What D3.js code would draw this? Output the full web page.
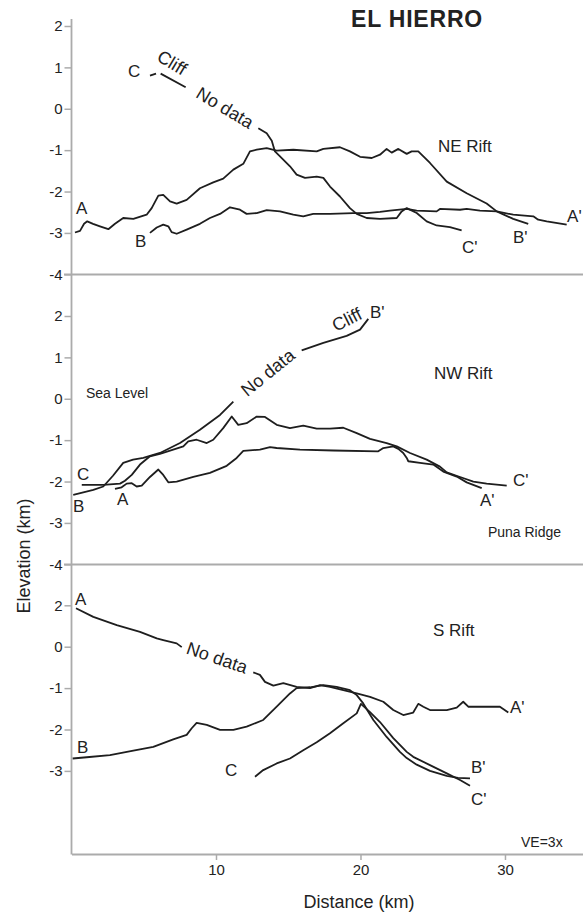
<!DOCTYPE html>
<html><head><meta charset="utf-8">
<script src="https://cdn.jsdelivr.net/npm/d3@7/dist/d3.min.js"></script>
<style>
body{margin:0;background:#fff}
svg{display:block}
text{font-family:"Liberation Sans",Arial,Helvetica,sans-serif;fill:#222}
</style>
</head><body>
<svg id="chart" width="583" height="912"></svg>
<script>
// ---------------- DATA ----------------
const xTickValues = [10, 20, 30];
const xTickLabels = ["10", "20", "30"];

const neTickValues = [2, 1, 0, -1, -2, -3, -4];
const neTickLabels = ["2", "1", "0", "-1", "-2", "-3", "-4"];
const nwTickValues = [2, 1, 0, -1, -2, -3, -4];
const nwTickLabels = ["2", "1", "0", "-1", "-2", "-3", "-4"];
const sTickValues = [1, 0, -1, -2, -3];
const sTickLabels = ["2", "0", "-1", "-2", "-3"];

// NE Rift profiles (distance km, elevation km); null = gap
const neA_x = [0.24,0.59,0.87,1.09,1.49,1.97,2.55,3.01,3.58,4.28,5.20,5.55,6.01,6.35,6.82,7.28,7.97,8.89,9.81,10.50,11.20,11.89,12.35,12.82,13.51,14.20,15.35,16.97,17.43,18.58,19.27,19.97,20.78,21.35,21.81,22.16,22.62,23.20,23.54,24.00,24.81,25.97,27.35,28.73,29.43,30.57,31.96,32.30,32.89,34.27];
const neA_y = [-2.99,-2.95,-2.78,-2.72,-2.78,-2.84,-2.91,-2.78,-2.64,-2.66,-2.56,-2.40,-2.10,-2.08,-2.24,-2.29,-2.20,-1.92,-1.78,-1.69,-1.47,-1.33,-1.03,-0.99,-0.95,-1.01,-0.99,-1.03,-0.97,-0.93,-1.03,-1.16,-1.19,-1.11,-0.97,-1.06,-0.97,-1.09,-1.03,-1.03,-1.31,-1.76,-2.04,-2.29,-2.48,-2.56,-2.60,-2.68,-2.72,-2.80];
const neB_x = [5.43,5.90,6.35,6.70,6.93,7.28,7.97,8.89,9.58,10.28,10.97,11.66,12.12,12.82,13.51,14.43,15.35,16.04,16.73,17.89,19.50,20.43,21.35,22.04,23.20,23.89,25.27,25.50,26.89,27.35,28.27,29.43,30.57,31.61];
const neB_y = [-3.00,-2.87,-2.80,-2.84,-2.98,-3.02,-2.92,-2.78,-2.64,-2.54,-2.38,-2.44,-2.54,-2.52,-2.45,-2.48,-2.56,-2.60,-2.54,-2.54,-2.52,-2.52,-2.49,-2.46,-2.42,-2.46,-2.48,-2.42,-2.44,-2.42,-2.46,-2.48,-2.66,-2.78];
const neC_x = [5.43,5.85,5.95,6.17,7.90,8.5,12.93,13.51,13.86,14.08,14.43,15.12,15.58,16.16,16.97,17.43,17.89,18.58,19.27,19.74,20.43,21.35,22.51,22.85,23.20,23.89,24.58,25.27,26.19,27.00];
const neC_y = [0.80,0.85,null,0.85,0.52,null,-0.47,-0.59,-0.77,-1.03,-1.15,-1.39,-1.59,-1.67,-1.64,-1.67,-1.88,-2.12,-2.40,-2.54,-2.64,-2.66,-2.64,-2.48,-2.40,-2.52,-2.72,-2.82,-2.86,-2.94];

// NW Rift profiles
const nwA_x = [3.01,3.47,3.82,4.17,4.51,4.86,5.43,6.01,6.35,6.70,7.28,8.43,9.58,10.74,11.43,11.89,13.04,13.74,14.20,15.81,18.12,21.23,21.58,22.27,22.62,22.96,23.20,23.31,24.12,25.04,25.73,26.66,27.35,28.39];
const nwA_y = [-2.18,-2.14,-2.05,-2.04,-2.12,-2.10,-1.89,-1.71,-1.84,-2.02,-2.00,-1.89,-1.79,-1.62,-1.43,-1.26,-1.23,-1.17,-1.19,-1.23,-1.25,-1.27,-1.19,-1.15,-1.21,-1.31,-1.43,-1.51,-1.55,-1.59,-1.76,-1.88,-2.02,-2.16];
const nwB_x = [0.12,1.51,2.20,2.87,3.58,4.26,4.97,6.12,7.51,8.89,10.28,11.20,13.5,15.93,17.43,19.04,19.97,20.54];
const nwB_y = [-2.32,-2.20,-2.12,-1.86,-1.55,-1.47,-1.43,-1.31,-1.07,-0.75,-0.39,-0.07,null,1.17,1.35,1.52,1.67,1.93];
const nwC_x = [0.71,2.20,3.36,3.70,4.17,4.74,5.43,6.12,7.04,7.74,8.08,8.66,9.36,9.81,10.50,11.09,11.54,12.12,12.82,13.39,14.20,15.12,16.04,16.97,17.89,18.81,19.74,20.66,21.81,22.51,23.43,24.58,25.50,25.97,26.89,27.81,28.73,30.12];
const nwC_y = [-2.08,-2.08,-2.05,-1.98,-1.84,-1.59,-1.39,-1.33,-1.23,-1.15,-1.03,-0.99,-1.07,-0.99,-0.71,-0.43,-0.63,-0.59,-0.43,-0.44,-0.63,-0.71,-0.65,-0.72,-0.72,-0.70,-0.83,-0.97,-1.07,-1.15,-1.31,-1.47,-1.64,-1.78,-1.89,-2.00,-2.05,-2.10];

// S Rift profiles
const sA_x = [0.31,1.51,3.13,4.74,5.90,6.35,7.28,7.63,10.0,12.58,13.04,13.39,13.97,14.66,15.58,16.51,17.20,17.89,18.81,19.74,20.66,21.58,22.27,22.96,23.65,24.00,24.35,24.81,25.97,26.66,27.11,27.46,27.81,29.65,30.23];
const sA_y = [0.93,0.72,0.52,0.36,0.20,0.16,0.08,-0.01,null,-0.62,-0.68,-0.85,-0.94,-0.88,-0.97,-1.00,-0.93,-0.97,-1.05,-1.13,-1.21,-1.33,-1.53,-1.65,-1.59,-1.38,-1.45,-1.53,-1.53,-1.47,-1.33,-1.45,-1.45,-1.45,-1.59];
const sB_x = [0.08,1.05,2.66,4.28,5.66,7.04,7.97,8.32,8.66,9.36,10.28,11.20,12.12,13.27,14.20,15.12,15.58,16.51,17.43,18.35,19.27,19.74,20.19,20.89,21.81,22.73,23.20,23.89,24.81,25.97,26.75,27.58];
const sB_y = [-2.70,-2.67,-2.62,-2.51,-2.42,-2.24,-2.13,-1.97,-1.84,-1.89,-2.01,-2.01,-1.93,-1.77,-1.45,-1.13,-1.00,-0.98,-0.93,-0.97,-1.05,-1.17,-1.37,-1.77,-2.18,-2.54,-2.69,-2.85,-3.00,-3.12,-3.17,-3.18];
const sC_x = [12.70,13.27,14.20,15.12,16.04,16.97,17.89,18.81,19.74,20.03,20.66,21.35,22.27,23.20,23.65,24.81,25.97,26.89,27.58];
const sC_y = [-3.14,-2.98,-2.82,-2.70,-2.50,-2.31,-2.09,-1.85,-1.61,-1.38,-1.58,-1.82,-2.21,-2.54,-2.66,-2.86,-3.06,-3.22,-3.36];

// annotations: [text, km, elev, rotation]
const neLabels = [["A",0.31,-2.54],["B",4.39,-3.33],["C",3.91,0.77],["NE Rift",25.36,-1.04],["A'",34.3,-2.73],["B'",30.55,-3.24],["C'",27.02,-3.48]];
const neRotated = [["Cliff",6.95,1.11,31],["No data",10.62,0.02,31]];
const nwLabels = [["C",0.38,-1.96],["B",0.10,-2.73],["A",3.15,-2.56],["B'",20.66,1.96],["NW Rift",25.09,0.48],["C'",30.55,-2.10],["A'",28.27,-2.58]];
const nwSmall = [["Sea Level",1.00,0.02],["Puna Ridge",28.82,-3.33]];
const nwRotated = [["No data",13.60,0.63,-39],["Cliff",19.07,1.91,-27]];
const sLabels = [["A",0.24,1.01],["B",0.38,-2.57],["C",10.62,-3.12],["S Rift",25.02,0.26],["A'",30.35,-1.60],["B'",27.65,-3.05],["C'",27.65,-3.83]];
const sSmall = [["VE=3x",31.11,-4.84]];
const sRotated = [["No data",10.07,-0.27,19]];

// ---------------- CHART ----------------
const svg = d3.select("#chart");
const W = 583;
const axisColor = "#ababab";
const x = d3.scaleLinear().domain([0, 35.4]).range([71.5, 583]);

const panels = [
  {dom:[-4,2], rng:[274.3,26], ticks:neTickValues, labels:neTickLabels,
   series:[[neA_x,neA_y],[neB_x,neB_y],[neC_x,neC_y]], text:neLabels, small:[], rot:neRotated},
  {dom:[-4,2], rng:[564.3,316], ticks:nwTickValues, labels:nwTickLabels,
   series:[[nwA_x,nwA_y],[nwB_x,nwB_y],[nwC_x,nwC_y]], text:nwLabels, small:nwSmall, rot:nwRotated},
  {dom:[-5,1], rng:[853.7,605.3], ticks:sTickValues, labels:sTickLabels,
   series:[[sA_x,sA_y],[sB_x,sB_y],[sC_x,sC_y]], text:sLabels, small:sSmall, rot:sRotated}
];

// main vertical axis line
svg.append("line").attr("x1",71.5).attr("x2",71.5).attr("y1",19).attr("y2",854.5)
  .attr("stroke",axisColor).attr("stroke-width",1.8);

// separators
[274.5, 564.5].forEach(yy => {
  svg.append("line").attr("x1",64).attr("x2",W).attr("y1",yy).attr("y2",yy)
    .attr("stroke",axisColor).attr("stroke-width",1.8);
});

panels.forEach(p => {
  const y = d3.scaleLinear().domain(p.dom).range(p.rng);
  const ax = svg.append("g").attr("transform","translate(71.5,0)")
    .call(d3.axisLeft(y).tickValues(p.ticks).tickFormat((d,i)=>p.labels[i]).tickSize(7).tickPadding(2));
  ax.select(".domain").remove();
  ax.selectAll(".tick line").attr("stroke",axisColor).attr("stroke-width",1.5);
  ax.selectAll(".tick text").style("font-size","15px").style("font-family","'Liberation Sans',Arial,sans-serif").attr("fill","#333");

  const line = d3.line().defined(d => d[1] !== null).x(d => x(d[0])).y(d => y(d[1]));
  p.series.forEach(([xs, ys]) => {
    const pts = xs.map((v,i)=>[v, ys[i]]);
    svg.append("path").attr("d", line(pts)).attr("fill","none")
      .attr("stroke","#1e1e1e").attr("stroke-width",1.8).attr("stroke-linejoin","round");
  });

  p.text.forEach(([t,kx,ky]) => {
    svg.append("text").attr("x",x(kx)).attr("y",y(ky)).style("font-size","17px").text(t);
  });
  p.small.forEach(([t,kx,ky]) => {
    svg.append("text").attr("x",x(kx)).attr("y",y(ky)).style("font-size","14px").text(t);
  });
  p.rot.forEach(([t,kx,ky,r]) => {
    svg.append("text").attr("text-anchor","middle").attr("dominant-baseline","central")
      .attr("transform",`translate(${x(kx)},${y(ky)}) rotate(${r})`)
      .style("font-size","18px").text(t);
  });
});

// x axis
const xa = svg.append("g").attr("transform","translate(0,854)")
  .call(d3.axisBottom(x).tickValues(xTickValues).tickFormat((d,i)=>xTickLabels[i]).tickSize(6).tickSizeOuter(0).tickPadding(4));
xa.select(".domain").attr("stroke",axisColor).attr("stroke-width",1.8);
xa.selectAll(".tick line").attr("stroke",axisColor).attr("stroke-width",1.5);
xa.selectAll(".tick text").style("font-size","15px").style("font-family","'Liberation Sans',Arial,sans-serif").attr("fill","#333");

// titles
svg.append("text").attr("x",417).attr("y",27).attr("text-anchor","middle")
  .style("font-size","23px").style("font-weight","bold").style("letter-spacing","0.8px").text("EL HIERRO");
svg.append("text").attr("x",359).attr("y",908).attr("text-anchor","middle")
  .style("font-size","18px").text("Distance (km)");
svg.append("text").attr("transform","translate(30,556) rotate(-90)").attr("text-anchor","middle")
  .style("font-size","18px").text("Elevation (km)");
</script>
</body></html>
